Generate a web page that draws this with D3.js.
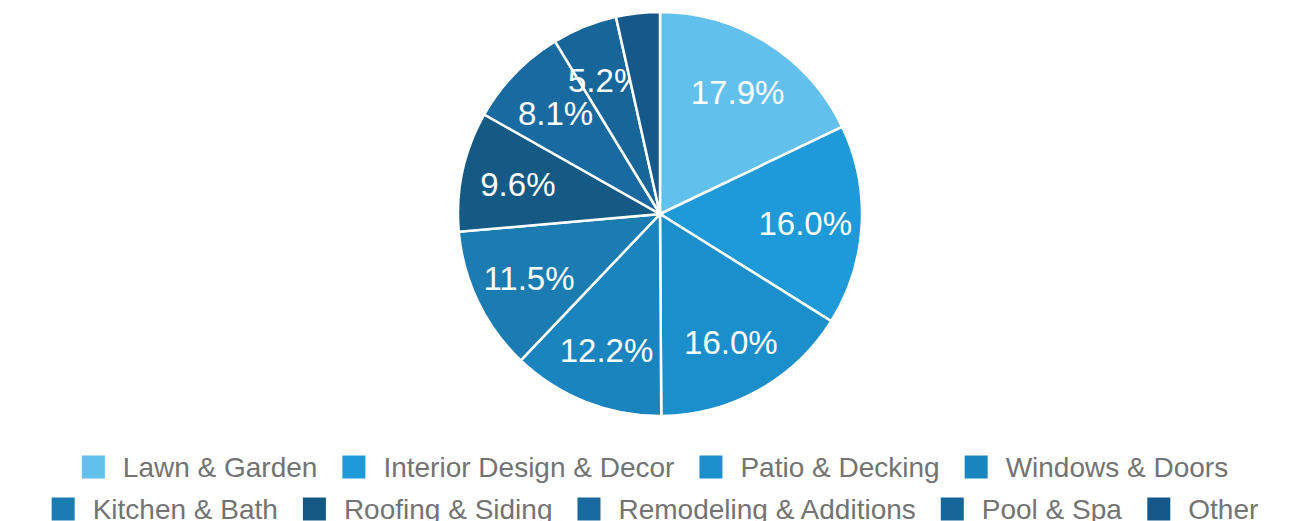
<!DOCTYPE html>
<html>
<head>
<meta charset="utf-8">
<script src="https://cdn.jsdelivr.net/npm/d3@7"></script>
<style>
  body { margin: 0; background: #fff; }
  svg { display: block; font-family: "Liberation Sans", Arial, Helvetica, sans-serif; }
</style>
</head>
<body>
<div id="chart"></div>
<script>
// data
var categories = ["Lawn & Garden", "Interior Design & Decor", "Patio & Decking", "Windows & Doors",
                  "Kitchen & Bath", "Roofing & Siding", "Remodeling & Additions", "Pool & Spa", "Other"];
var shares = [17.9, 16.0, 16.0, 12.2, 11.5, 9.6, 8.1, 5.2, 3.5];
var colors = ["#62c0ec", "#1e9ad8", "#1a8fcc", "#1a84bf", "#1b7cb2", "#155a84", "#1a6aa2", "#16669a", "#14598a"];

var width = 1303, height = 521;
var cx = 660, cy = 214, radius = 202;

var svg = d3.select("#chart").append("svg")
    .attr("width", width)
    .attr("height", height);

var color = d3.scaleOrdinal().domain(categories).range(colors);

var rows = categories.map(function (c, i) { return { name: c, value: shares[i] }; });

var pie = d3.pie().sort(null).value(function (d) { return d.value; });
var arc = d3.arc().innerRadius(0).outerRadius(radius);
var labelArc = d3.arc().innerRadius(radius * 0.72).outerRadius(radius * 0.72);

var g = svg.append("g").attr("transform", "translate(" + cx + "," + cy + ")");

var slices = g.selectAll("g.slice").data(pie(rows)).enter().append("g").attr("class", "slice");

slices.append("path")
    .attr("d", arc)
    .attr("fill", function (d) { return color(d.data.name); })
    .attr("stroke", "#fff")
    .attr("stroke-width", 2.5);

// labels (the smallest slice has none)
slices.filter(function (d) { return d.data.value >= 5; })
    .append("text")
    .attr("transform", function (d) { return "translate(" + labelArc.centroid(d) + ")"; })
    .attr("text-anchor", "middle")
    .attr("dy", "0.38em")
    .attr("fill", "#fff")
    .attr("font-size", 33)
    .text(function (d) { return d.data.value.toFixed(1) + "%"; });

// legend, wrapped into centered rows
var sw = 23, swGap = 18, itemGap = 25, maxRow = 1260, fontSize = 28;
var legend = svg.append("g");

var items = legend.selectAll("g.item").data(categories).enter().append("g").attr("class", "item");
items.append("rect")
    .attr("width", sw).attr("height", sw)
    .attr("y", -sw / 2)
    .attr("fill", function (d) { return color(d); });
items.append("text")
    .attr("x", sw + swGap)
    .attr("dy", "0.36em")
    .attr("font-size", fontSize)
    .attr("fill", "#737373")
    .text(function (d) { return d; });

var widths = [];
items.each(function () { widths.push(this.getBBox().width); });

var lines = [[]], lineW = [0];
widths.forEach(function (w, i) {
    var cur = lines.length - 1;
    var add = (lines[cur].length ? itemGap : 0) + w;
    if (lineW[cur] + add > maxRow && lines[cur].length) {
        lines.push([i]); lineW.push(w);
    } else {
        lines[cur].push(i); lineW[cur] += add;
    }
});

var rowY = [467, 509];
lines.forEach(function (line, r) {
    var x = 655 - lineW[r] / 2;
    line.forEach(function (i) {
        d3.select(items.nodes()[i]).attr("transform", "translate(" + x + "," + rowY[r] + ")");
        x += widths[i] + itemGap;
    });
});
</script>
</body>
</html>
